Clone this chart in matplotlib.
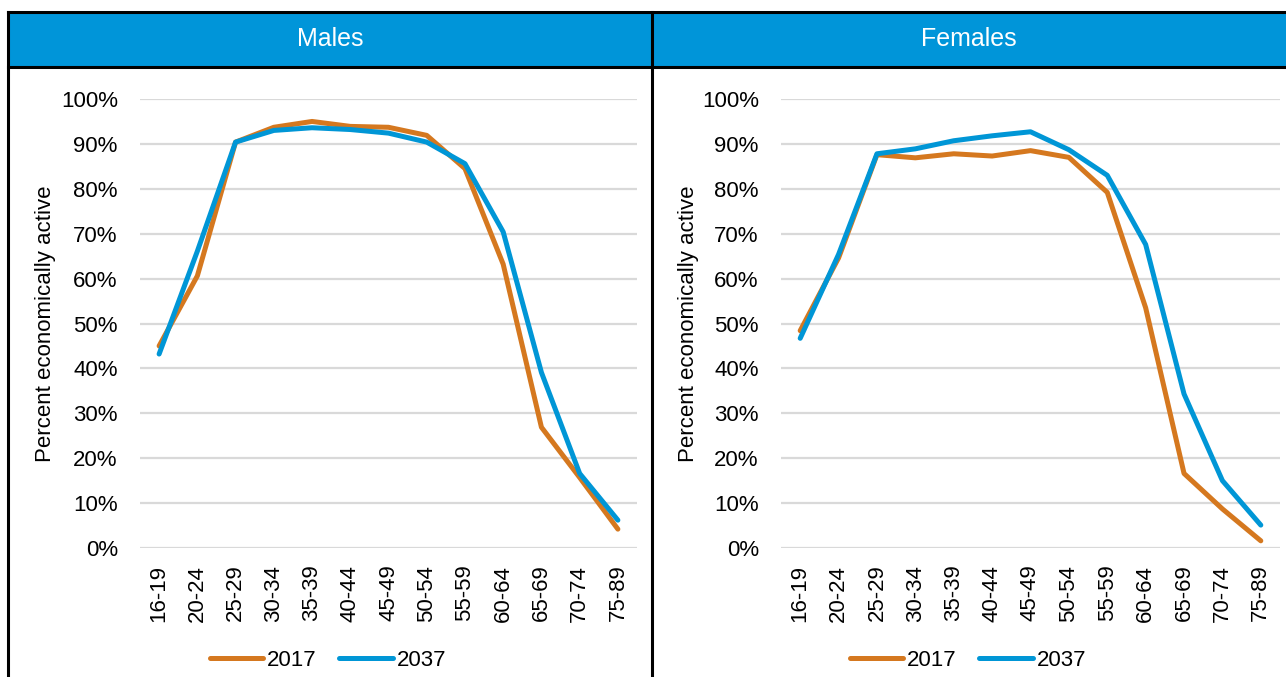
import matplotlib
matplotlib.use("Agg")
import matplotlib.pyplot as plt
from matplotlib.patches import Rectangle
from matplotlib.lines import Line2D
from matplotlib.ticker import PercentFormatter

age_groups = ["16-19", "20-24", "25-29", "30-34", "35-39", "40-44", "45-49",
              "50-54", "55-59", "60-64", "65-69", "70-74", "75-89"]

males_2017 = [45.0, 60.6, 90.4, 93.7, 95.0, 93.9, 93.7, 91.9, 84.5, 63.2, 26.9, 15.7, 4.2]
males_2037 = [43.2, 66.1, 90.4, 93.0, 93.6, 93.2, 92.4, 90.4, 85.6, 70.4, 39.1, 16.6, 6.2]
females_2017 = [48.4, 64.6, 87.6, 86.9, 87.8, 87.3, 88.5, 87.0, 79.2, 53.5, 16.6, 8.7, 1.6]
females_2037 = [46.7, 65.4, 87.8, 88.9, 90.7, 91.8, 92.7, 88.7, 83.0, 67.6, 34.3, 15.0, 5.1]

panels = ["Males", "Females"]
years = ["2017", "2037"]

orange = "#D5781F"
blue = "#0096D6"
header_blue = "#0095D9"

plt.rcParams["font.family"] = ["Liberation Sans Narrow", "Liberation Sans", "DejaVu Sans"]

W, H = 1286, 677
fig = plt.figure(figsize=(W / 100, H / 100), dpi=100)


def fx(x):
    return x / W


def fy(y):
    return 1 - y / H


# panel frames: header bar and borders
fig.add_artist(Rectangle((fx(8), fy(67)), fx(1290 - 8), fy(12) - fy(67),
                         transform=fig.transFigure, facecolor=header_blue,
                         edgecolor="none", zorder=0))
for y in (12, 67):
    fig.add_artist(Line2D([fx(8), fx(1290)], [fy(y), fy(y)], transform=fig.transFigure,
                          color="black", lw=2.2))
for x in (8, 652):
    fig.add_artist(Line2D([fx(x), fx(x)], [fy(12), fy(680)], transform=fig.transFigure,
                          color="black", lw=2.2))

fig.text(fx(330), fy(39), panels[0], color="white", fontsize=18, ha="center", va="center")
fig.text(fx(969), fy(39), panels[1], color="white", fontsize=18, ha="center", va="center")

axes_px = [(140, 637), (781, 1280)]
series = [(males_2017, males_2037), (females_2017, females_2037)]
legend_x = [328, 968]
label_x = [56, 699]

for (x0, x1), (s17, s37), lx, ylx in zip(axes_px, series, legend_x, label_x):
    ax = fig.add_axes([fx(x0), fy(548), fx(x1 - x0), fy(99) - fy(548)])
    xs = range(len(age_groups))
    l1, = ax.plot(xs, s17, color=orange, lw=3.6, solid_capstyle="round", label=years[0],
                  clip_on=False, zorder=3)
    l2, = ax.plot(xs, s37, color=blue, lw=3.6, solid_capstyle="round", label=years[1],
                  clip_on=False, zorder=4)
    ax.set_xlim(-0.5, len(age_groups) - 0.5)
    ax.set_ylim(0, 100)
    ax.set_yticks(range(0, 101, 10))
    ax.yaxis.set_major_formatter(PercentFormatter(decimals=0))
    ax.set_xticks(list(xs))
    ax.set_xticklabels(age_groups, rotation=90)
    ax.tick_params(axis="both", length=0, labelsize=16)
    ax.tick_params(axis="y", pad=16)
    ax.tick_params(axis="x", pad=12)
    ax.grid(axis="y", color="#D9D9D9", lw=1.6)
    ax.set_axisbelow(True)
    for sp in ax.spines.values():
        sp.set_visible(False)
    ax.set_ylabel("Percent economically active", fontsize=16)
    ax.yaxis.set_label_coords((ylx - x0) / (x1 - x0), 0.5)
    fig.legend(handles=[l1, l2], loc="center", bbox_to_anchor=(fx(lx), fy(660)),
               ncol=2, frameon=False, fontsize=16, handlelength=2.4,
               handletextpad=0.2, columnspacing=1.0, borderaxespad=0)

fig.savefig("out.png", dpi=100)
